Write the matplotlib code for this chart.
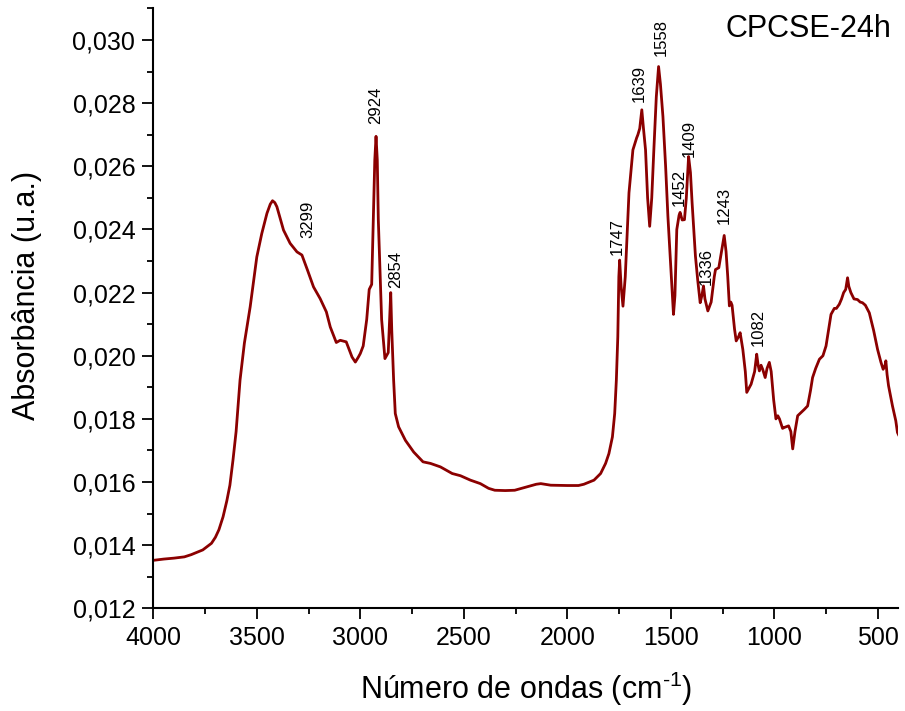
import matplotlib
matplotlib.use("Agg")
import matplotlib.pyplot as plt
import numpy as np
from matplotlib.ticker import FuncFormatter, MultipleLocator

# espectro FTIR (número de ondas em cm-1, absorbância)
wavenumber = [
	4000, 3950, 3900, 3850, 3817, 3761, 3719, 3700, 3683, 3663, 3645, 3630, 3615, 3600,
	3581, 3560, 3532, 3500, 3476, 3451, 3435, 3424, 3413, 3403, 3371, 3339, 3306, 3282,
	3255, 3226, 3194, 3164, 3145, 3116, 3097, 3068, 3040, 3024, 3010, 3000, 2986, 2969,
	2957, 2945, 2937, 2930, 2924, 2918, 2913, 2897, 2881, 2865, 2858, 2853, 2848, 2839,
	2831, 2815, 2782, 2742, 2697, 2661, 2613, 2556, 2516, 2468, 2420, 2380, 2350, 2300,
	2254, 2200, 2150, 2128, 2080, 2000, 1946, 1920, 1871, 1839, 1815, 1799, 1782, 1771,
	1763, 1756, 1751, 1747, 1740, 1731, 1720, 1702, 1683, 1665, 1659, 1650, 1640, 1632,
	1622, 1612, 1602, 1592, 1582, 1570, 1559, 1550, 1538, 1525, 1514, 1500, 1487, 1480,
	1471, 1460, 1455, 1445, 1434, 1425, 1414, 1405, 1397, 1381, 1370, 1358, 1350, 1342,
	1335, 1321, 1305, 1290, 1284, 1268, 1255, 1242, 1233, 1225, 1217, 1210, 1204, 1192,
	1184, 1173, 1165, 1152, 1140, 1133, 1112, 1095, 1085, 1078, 1072, 1064, 1056, 1044,
	1035, 1024, 1015, 1003, 992, 983, 975, 960, 951, 931, 920, 911, 900, 887,
	871, 855, 839, 825, 815, 800, 782, 765, 750, 738, 726, 710, 700, 686,
	675, 665, 655, 646, 640, 630, 615, 598, 585, 574, 560, 541, 520, 501,
	485, 474, 465, 461, 455, 448, 429, 413, 405, 400,
]
absorbance = [
	0.01352, 0.01356, 0.01359, 0.01363, 0.01370, 0.01385, 0.01406, 0.01425, 0.01449, 0.01490,
	0.01540, 0.01590, 0.01670, 0.01760, 0.01923, 0.02040, 0.02155, 0.02313, 0.02387, 0.02451,
	0.02480, 0.02491, 0.02485, 0.02472, 0.02398, 0.02356, 0.02329, 0.02319, 0.02271, 0.02218,
	0.02181, 0.02139, 0.02091, 0.02042, 0.02049, 0.02044, 0.01996, 0.01980, 0.01995, 0.02007,
	0.02031, 0.02115, 0.02210, 0.02226, 0.02431, 0.02620, 0.02695, 0.02620, 0.02431, 0.02115,
	0.01991, 0.02010, 0.02120, 0.02200, 0.02080, 0.01923, 0.01817, 0.01775, 0.01732, 0.01695,
	0.01664, 0.01659, 0.01648, 0.01627, 0.01620, 0.01606, 0.01595, 0.01580, 0.01574, 0.01573,
	0.01574, 0.01584, 0.01593, 0.01595, 0.01590, 0.01589, 0.01589, 0.01593, 0.01606, 0.01627,
	0.01659, 0.01690, 0.01743, 0.01817, 0.01923, 0.02060, 0.02250, 0.02303, 0.02220, 0.02157,
	0.02250, 0.02516, 0.02652, 0.02690, 0.02700, 0.02720, 0.02779, 0.02720, 0.02652, 0.02500,
	0.02410, 0.02500, 0.02650, 0.02820, 0.02916, 0.02860, 0.02758, 0.02600, 0.02442, 0.02280,
	0.02131, 0.02190, 0.02400, 0.02445, 0.02454, 0.02430, 0.02431, 0.02500, 0.02631, 0.02580,
	0.02484, 0.02316, 0.02240, 0.02168, 0.02190, 0.02221, 0.02180, 0.02142, 0.02170, 0.02250,
	0.02273, 0.02279, 0.02330, 0.02381, 0.02330, 0.02252, 0.02158, 0.02170, 0.02160, 0.02084,
	0.02047, 0.02060, 0.02073, 0.02020, 0.01950, 0.01884, 0.01910, 0.01950, 0.02005, 0.01970,
	0.01952, 0.01970, 0.01957, 0.01931, 0.01960, 0.01979, 0.01950, 0.01860, 0.01800, 0.01810,
	0.01800, 0.01770, 0.01773, 0.01778, 0.01760, 0.01705, 0.01760, 0.01810, 0.01820, 0.01830,
	0.01841, 0.01890, 0.01931, 0.01960, 0.01989, 0.02000, 0.02031, 0.02080, 0.02131, 0.02150,
	0.02150, 0.02163, 0.02180, 0.02200, 0.02210, 0.02247, 0.02220, 0.02200, 0.02180, 0.02178,
	0.02170, 0.02168, 0.02160, 0.02136, 0.02080, 0.02020, 0.01980, 0.01957, 0.01970, 0.01984,
	0.01940, 0.01905, 0.01841, 0.01794, 0.01757, 0.01750,
]

# bandas marcadas no espectro
peak_labels = [3299, 2924, 2854, 1747, 1639, 1558, 1452, 1409, 1336, 1243, 1082]

sample_name = "CPCSE-24h"

# deslocamento do rótulo em relação à curva (pontos)
label_offsets = {
	3299: (7, 11), 2924: (0, 9), 2854: (4, 7), 1747: (-2, 4), 1639: (-2, 7),
	1558: (2, 9), 1452: (-1, 6), 1409: (0, 6), 1336: (1, 9), 1243: (0, 9), 1082: (1, 9),
}


def comma_fmt(v, pos):
	return f"{v:.3f}".replace(".", ",")


def main():
	plt.rcParams["font.family"] = ["Liberation Sans", "DejaVu Sans"]
	plt.rcParams["mathtext.fontset"] = "custom"
	plt.rcParams["mathtext.rm"] = "Liberation Sans"
	plt.rcParams["mathtext.it"] = "Liberation Sans"

	fig = plt.figure(figsize=(9.05, 7.11), dpi=100)
	ax = fig.add_axes([0.1694, 0.1444, 0.8234, 0.8437])

	ax.plot(wavenumber, absorbance, color="#8b0000", lw=2.0, solid_joinstyle="round")

	ax.set_xlim(4000, 400)
	ax.set_ylim(0.012, 0.031)

	for p in peak_labels:
		yv = np.interp(p, wavenumber[::-1], absorbance[::-1])
		dx, dy = label_offsets[p]
		ax.annotate(str(p), xy=(p, yv), xytext=(dx, dy), textcoords="offset points",
			rotation=90, ha="center", va="bottom", fontsize=12)

	ax.text(0.99, 0.99, sample_name, transform=ax.transAxes, ha="right", va="top", fontsize=22)

	ax.xaxis.set_major_locator(MultipleLocator(500))
	ax.xaxis.set_minor_locator(MultipleLocator(250))
	ax.yaxis.set_major_locator(MultipleLocator(0.002))
	ax.yaxis.set_minor_locator(MultipleLocator(0.001))
	ax.yaxis.set_major_formatter(FuncFormatter(comma_fmt))

	for side in ["top", "right"]:
		ax.spines[side].set_visible(False)
	for side in ["left", "bottom"]:
		ax.spines[side].set_linewidth(1.5)

	ax.tick_params(which="major", direction="out", length=8, width=1.3, labelsize=18, pad=5)
	ax.tick_params(which="minor", direction="out", length=4, width=1.3)

	ax.set_xlabel("Número de ondas (cm$^{\\text{-1}}$)", fontsize=22, labelpad=14)
	ax.set_ylabel("Absorbância (u.a.)", fontsize=22)
	ax.yaxis.set_label_coords(-0.150, 0.521)

	fig.savefig("out.png", dpi=100)


if __name__ == "__main__":
	main()
